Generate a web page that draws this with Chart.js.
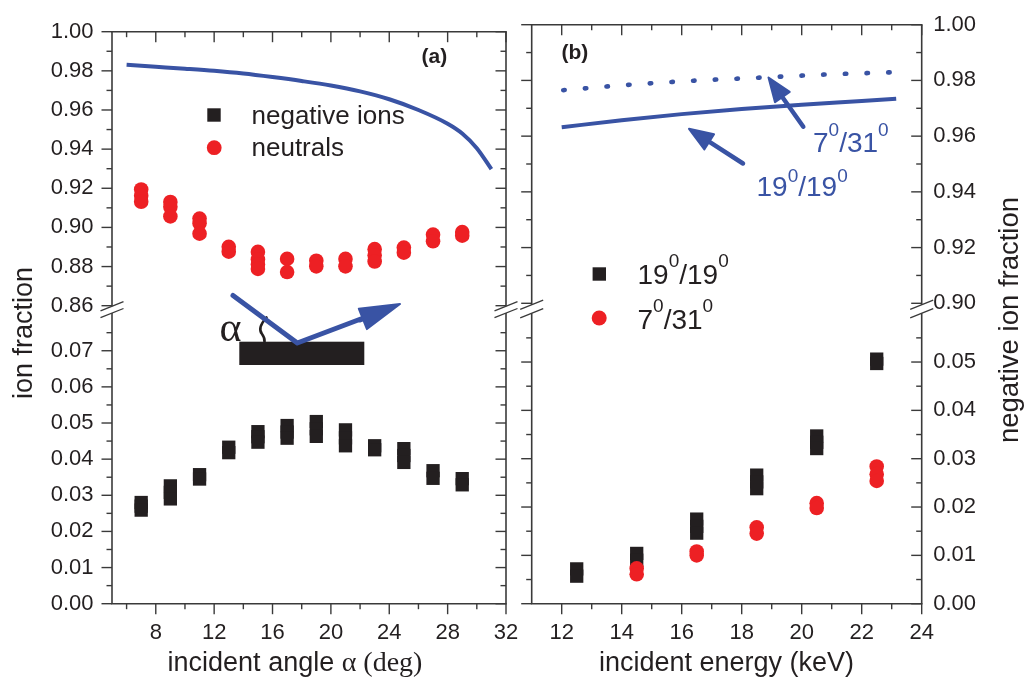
<!DOCTYPE html>
<html>
<head>
<meta charset="utf-8">
<script src="https://cdn.jsdelivr.net/npm/chart.js@4.4.1/dist/chart.umd.min.js"></script>
<style>
html,body{margin:0;padding:0;background:#fff;}
#wrap{position:relative;width:1027px;height:681px;background:#fff;overflow:hidden;}
#wrap canvas{position:absolute;left:0;top:0;}
</style>
</head>
<body>
<div id="wrap">
<canvas id="cTL" width="1027" height="681"></canvas>
<canvas id="cBL" width="1027" height="681"></canvas>
<canvas id="cTR" width="1027" height="681"></canvas>
<canvas id="cBR" width="1027" height="681"></canvas>
</div>
<script>
// ---------------- data ----------------
// panel (a): incident angle
const ANGLES = [7, 9, 11, 13, 15, 17, 19, 21, 23, 25, 27, 29];
const NEG_IONS_VS_ANGLE = [
  [0.0280, 0.0270, 0.0259], [0.0326, 0.0308, 0.0290], [0.0357, 0.0345], [0.0433, 0.0418],
  [0.0476, 0.0462, 0.0447], [0.0493, 0.0475, 0.0458], [0.0504, 0.0484, 0.0463], [0.0481, 0.0459, 0.0437],
  [0.0437, 0.0426], [0.0429, 0.0410, 0.0391], [0.0368, 0.0347], [0.0346, 0.0329]
];
const NEUTRALS_VS_ANGLE = [
  [0.9194, 0.9162, 0.9131], [0.9130, 0.9105, 0.9056], [0.9045, 0.9021, 0.8968], [0.8901, 0.8876],
  [0.8875, 0.8836, 0.8810, 0.8788], [0.8839, 0.8772], [0.8830, 0.8801], [0.8839, 0.8801],
  [0.8889, 0.8858, 0.8826], [0.8897, 0.8871], [0.8963, 0.8929], [0.8976, 0.8958]
];
const THEORY_ANGLE_X = [6, 8, 10, 12, 14, 16, 18, 20, 22, 24, 26, 28, 29, 30, 31];
const THEORY_ANGLE_Y = [0.9831, 0.9821, 0.9811, 0.9800, 0.9786, 0.9768, 0.9748, 0.9725, 0.9695, 0.9655, 0.9600, 0.9530, 0.9480, 0.9405, 0.9298];

// panel (b): incident energy
const ENERGIES = [12.5, 14.5, 16.5, 18.5, 20.5, 22.5];
const NEG_19_19 = [[0.0072, 0.0057], [0.0104, 0.0090], [0.0175, 0.0160, 0.0146], [0.0266, 0.0252, 0.0238], [0.0347, 0.0334, 0.0321], [0.0506, 0.0497]];
const NEG_7_31 = [[], [0.0073, 0.0061], [0.0108, 0.0100], [0.0158, 0.0145], [0.0208, 0.0198], [0.0284, 0.0268, 0.0254]];
const CURVE_19_19_X = [12, 14, 16, 18, 20, 22, 23.15];
const CURVE_19_19_Y = [0.9632, 0.9657, 0.9679, 0.9697, 0.9713, 0.9726, 0.9734];
const CURVE_7_31_X = [12.05, 14.2, 16.4, 18.6, 20.75, 22.95];
const CURVE_7_31_Y = [0.9765, 0.9784, 0.9799, 0.9810, 0.9821, 0.9829];

// axes
const ANGLE_RANGE = [5, 32];
const ANGLE_TICKS = [8, 12, 16, 20, 24, 28, 32];
const ANGLE_MINOR = [6, 10, 14, 18, 22, 26, 30];
const ENERGY_RANGE = [11, 24];
const ENERGY_TICKS = [12, 14, 16, 18, 20, 22, 24];
const ENERGY_MINOR = [13, 15, 17, 19, 21, 23];
const FRAC_UP_RANGE = [0.86, 1.00];
const FRAC_UP_TICKS = [0.86, 0.88, 0.90, 0.92, 0.94, 0.96, 0.98, 1.00];
const FRAC_UP_MINOR = [0.87, 0.89, 0.91, 0.93, 0.95, 0.97, 0.99];
const FRAC_LO_RANGE = [0, 0.08];
const FRAC_LO_TICKS = [0, 0.01, 0.02, 0.03, 0.04, 0.05, 0.06, 0.07];
const FRAC_LO_MINOR = [0.005, 0.015, 0.025, 0.035, 0.045, 0.055, 0.065, 0.075];
const NEG_UP_RANGE = [0.90, 1.00];
const NEG_UP_TICKS = [0.90, 0.92, 0.94, 0.96, 0.98, 1.00];
const NEG_UP_MINOR = [0.91, 0.93, 0.95, 0.97, 0.99];
const NEG_LO_RANGE = [0, 0.06];
const NEG_LO_TICKS = [0, 0.01, 0.02, 0.03, 0.04, 0.05];
const NEG_LO_MINOR = [0.005, 0.015, 0.025, 0.035, 0.045, 0.055];

// ---------------- style ----------------
const FONT = '"Liberation Sans", Arial, Helvetica, sans-serif';
const SERIF = '"Liberation Serif", "Times New Roman", serif';
const TEXT = '#231f20';
const AXIS = '#3a3a3a';
const BLUE = '#3953a4';
const RED = '#ed2024';
const BLACK = '#231f20';
const W = 1027, H = 681;
const G = { L1: 112, R1: 506, L2: 531.7, R2: 921.7, TOP: 15, BOT: 603.7,
            UP_B_L: 305.7, LO_T_L: 314.6, UP_B_R: 303.3, LO_T_R: 313.7 };
const YW = 80, XH = 60;

const pts = (xs, ys) => xs.flatMap((x, i) => ys[i].map(y => ({ x, y })));
const line = (xs, ys) => xs.map((x, i) => ({ x, y: ys[i] }));

function squares(data) {
  return { data, pointStyle: 'rect', pointRadius: 9.4, pointHoverRadius: 9.4,
           backgroundColor: BLACK, borderColor: BLACK, borderWidth: 0, showLine: false, clip: false };
}
function circles(data) {
  return { data, pointStyle: 'circle', pointRadius: 7.3, pointHoverRadius: 7.3,
           backgroundColor: RED, borderColor: RED, borderWidth: 0, showLine: false, clip: false };
}
function curve(data, dash) {
  return { data, showLine: true, pointRadius: 0, pointHoverRadius: 0, borderColor: BLUE,
           backgroundColor: BLUE, borderWidth: dash ? 4.6 : 4, borderDash: dash || [],
           borderCapStyle: dash ? 'round' : 'butt', cubicInterpolationMode: 'monotone', fill: false, clip: false };
}

// ---------------- helpers for drawing ----------------
function seg(ctx, x1, y1, x2, y2) { ctx.beginPath(); ctx.moveTo(x1, y1); ctx.lineTo(x2, y2); ctx.stroke(); }
function richText(ctx, x, y, parts, size, supSize, raise, color) {
  ctx.fillStyle = color; ctx.textAlign = 'left'; ctx.textBaseline = 'alphabetic';
  for (const [t, sup] of parts) {
    ctx.font = (sup ? supSize : size) + 'px ' + FONT;
    ctx.fillText(t, x, sup ? y - raise : y);
    x += ctx.measureText(t).width;
  }
}
function arrow(ctx, x1, y1, x2, y2, len, half, width, color) {
  const a = Math.atan2(y2 - y1, x2 - x1);
  const bx = x2 - len * Math.cos(a), by = y2 - len * Math.sin(a);
  ctx.strokeStyle = color; ctx.fillStyle = color; ctx.lineWidth = width; ctx.lineCap = 'round';
  seg(ctx, x1, y1, bx + 2 * Math.cos(a), by + 2 * Math.sin(a));
  ctx.beginPath();
  ctx.moveTo(x2, y2);
  ctx.lineTo(bx - half * Math.sin(a), by + half * Math.cos(a));
  ctx.lineTo(bx + half * Math.sin(a), by - half * Math.cos(a));
  ctx.closePath(); ctx.lineJoin = 'round'; ctx.lineWidth = 2; ctx.fill(); ctx.stroke();
}

// ---------------- annotations ----------------
function extraTL(chart, ctx) {
  // (a)
  ctx.fillStyle = TEXT; ctx.font = 'bold 21px ' + FONT; ctx.textAlign = 'left'; ctx.textBaseline = 'alphabetic';
  ctx.fillText('(a)', 421.5, 63);
  // legend
  ctx.fillStyle = BLACK; ctx.fillRect(207.3, 108.3, 13.4, 13.4);
  ctx.fillStyle = RED; ctx.beginPath(); ctx.arc(214.2, 147.7, 7.4, 0, Math.PI * 2); ctx.fill();
  ctx.fillStyle = TEXT; ctx.font = '26px ' + FONT;
  ctx.fillText('negative ions', 251.5, 123.5);
  ctx.fillText('neutrals', 251.5, 155.5);
}
function extraBL(chart, ctx) {
  // inset sketch: surface and scattered beam
  ctx.fillStyle = BLACK; ctx.fillRect(239.3, 341.7, 125, 23.3);
  ctx.strokeStyle = BLACK; ctx.lineWidth = 2.6; ctx.lineCap = 'round';
  ctx.beginPath(); ctx.moveTo(266.5, 317.5); ctx.quadraticCurveTo(257, 328, 262, 334); ctx.quadraticCurveTo(265, 338, 264.5, 342); ctx.stroke();
  ctx.fillStyle = TEXT; ctx.font = '42px ' + SERIF; ctx.textAlign = 'left'; ctx.textBaseline = 'alphabetic';
  ctx.fillText('\u03b1', 219.5, 341);
  ctx.strokeStyle = BLUE; ctx.lineWidth = 5; ctx.lineJoin = 'round'; ctx.lineCap = 'round';
  ctx.beginPath(); ctx.moveTo(233, 295.5); ctx.lineTo(297.3, 343); ctx.lineTo(370, 315.5); ctx.stroke();
  arrow(ctx, 360, 320, 400, 304, 40, 11, 5, BLUE);
}
function extraTR(chart, ctx) {
  ctx.fillStyle = TEXT; ctx.font = 'bold 21px ' + FONT; ctx.textAlign = 'left'; ctx.textBaseline = 'alphabetic';
  ctx.fillText('(b)', 561.5, 59);
  arrow(ctx, 803.3, 126.7, 768.5, 77.5, 24, 9, 4.5, BLUE);
  arrow(ctx, 743, 163.5, 689, 128.8, 24, 9, 4.5, BLUE);
  richText(ctx, 813, 151.5, [['7', false], ['0', true], ['/31', false], ['0', true]], 28, 19, 15.5, BLUE);
  richText(ctx, 756.5, 196, [['19', false], ['0', true], ['/19', false], ['0', true]], 28, 19, 14.5, BLUE);
  // legend
  ctx.fillStyle = BLACK; ctx.fillRect(592.6, 267.3, 13.4, 13.4);
  richText(ctx, 637.5, 283.5, [['19', false], ['0', true], ['/19', false], ['0', true]], 28, 19, 16.5, TEXT);
}
function extraBR(chart, ctx) {
  ctx.fillStyle = RED; ctx.beginPath(); ctx.arc(599.2, 318, 7.5, 0, Math.PI * 2); ctx.fill();
  richText(ctx, 637.5, 328.5, [['7', false], ['0', true], ['/31', false], ['0', true]], 28, 19, 16.5, TEXT);
}
function extraTitles(ctx) {
  ctx.fillStyle = TEXT; ctx.textBaseline = 'alphabetic';
  // y titles (rotated)
  ctx.save(); ctx.translate(31.5, 333); ctx.rotate(-Math.PI / 2);
  ctx.textAlign = 'center'; ctx.font = '27px ' + FONT; ctx.fillText('ion fraction', 0, 0); ctx.restore();
  ctx.save(); ctx.translate(1018, 320); ctx.rotate(-Math.PI / 2);
  ctx.textAlign = 'center'; ctx.font = '27.5px ' + FONT; ctx.fillText('negative ion fraction', 0, 0); ctx.restore();
  // x titles
  ctx.textAlign = 'left';
  ctx.font = '27px ' + FONT;
  const p1 = 'incident angle ';
  const w1 = ctx.measureText(p1).width;
  ctx.font = '28px ' + SERIF;
  const p2 = '\u03b1 (deg)';
  const w2 = ctx.measureText(p2).width;
  const x0 = 295 - (w1 + w2) / 2;
  ctx.font = '27px ' + FONT; ctx.fillText(p1, x0, 671);
  ctx.font = '28px ' + SERIF; ctx.fillText(p2, x0 + w1, 671);
  ctx.textAlign = 'center'; ctx.font = '27px ' + FONT;
  ctx.fillText('incident energy (keV)', 726.5, 671);
}

// per-chart frame configuration (kept outside Chart options)
const FRAME = {
  cTL: { edge: 'top', yMajor: FRAC_UP_TICKS, yMinor: FRAC_UP_MINOR, xMajor: ANGLE_TICKS, xMinor: ANGLE_MINOR, brk: 0.5, extra: extraTL },
  cBL: { edge: 'bottom', yMajor: FRAC_LO_TICKS, yMinor: FRAC_LO_MINOR, xMajor: ANGLE_TICKS, xMinor: ANGLE_MINOR, brk: 1.5, extra: (c, ctx) => { extraBL(c, ctx); extraTitles(ctx); } },
  cTR: { edge: 'top', yMajor: NEG_UP_TICKS, yMinor: NEG_UP_MINOR, xMajor: ENERGY_TICKS, xMinor: ENERGY_MINOR, brk: 1.5, extra: extraTR },
  cBR: { edge: 'bottom', yMajor: NEG_LO_TICKS, yMinor: NEG_LO_MINOR, xMajor: ENERGY_TICKS, xMinor: ENERGY_MINOR, brk: 0.5, extra: extraBR }
};

const framePlugin = {
  id: 'frame',
  afterDraw(chart) {
    const f = FRAME[chart.canvas.id];
    const ctx = chart.ctx;
    const { left, right, top, bottom } = chart.chartArea;
    const xs = chart.scales.x, ys = chart.scales.y;
    const MAJ = 10.5, MIN = 5.5;
    ctx.save();
    ctx.strokeStyle = AXIS; ctx.lineWidth = 1.6; ctx.lineCap = 'butt';
    const y0 = f.edge === 'top' ? top : top - f.brk;
    const y1 = f.edge === 'top' ? bottom + f.brk : bottom;
    seg(ctx, left, y0, left, y1);
    seg(ctx, right, y0, right, y1);
    if (f.edge === 'top') seg(ctx, left - 0.8, top, right + 0.8, top);
    else seg(ctx, left - 0.8, bottom, right + 0.8, bottom);
    ctx.lineWidth = 1.4;
    for (const v of f.yMajor) { const p = ys.getPixelForValue(v); seg(ctx, left - MAJ, p, left, p); seg(ctx, right - MAJ, p, right, p); }
    for (const v of f.yMinor) { const p = ys.getPixelForValue(v); seg(ctx, left - MIN, p, left, p); seg(ctx, right - MIN, p, right, p); }
    for (const v of f.xMajor) { const p = xs.getPixelForValue(v); if (f.edge === 'top') seg(ctx, p, top, p, top + MAJ); else seg(ctx, p, bottom, p, bottom + MAJ); }
    for (const v of f.xMinor) { const p = xs.getPixelForValue(v); if (f.edge === 'top') seg(ctx, p, top, p, top + MIN); else seg(ctx, p, bottom, p, bottom + MIN); }
    // axis break marks
    const by = f.edge === 'top' ? bottom + f.brk : top - f.brk;
    ctx.lineWidth = 1.3;
    for (const ax of [left, right]) seg(ctx, ax - 11.5, by + 4.6, ax + 11.5, by - 4.6);
    if (f.extra) f.extra(chart, ctx);
    ctx.restore();
  }
};

function makeChart(id, o) {
  const showX = o.edge === 'bottom';
  return new Chart(document.getElementById(id), {
    type: 'scatter',
    data: { datasets: o.datasets },
    options: {
      responsive: false, animation: false, devicePixelRatio: 1,
      events: [],
      layout: { autoPadding: false, padding: o.padding },
      plugins: { legend: { display: false }, tooltip: { enabled: false } },
      scales: {
        x: {
          type: 'linear', min: o.xRange[0], max: o.xRange[1], display: showX,
          afterBuildTicks: s => { s.ticks = o.xTicks.map(v => ({ value: v })); },
          afterFit: s => { if (showX) s.height = XH; },
          grid: { display: false, drawTicks: false }, border: { display: false },
          ticks: { autoSkip: false, maxRotation: 0, padding: 16.5, color: TEXT,
                   font: { family: FONT, size: 22 }, callback: v => String(v) }
        },
        y: {
          type: 'linear', position: o.yPos, min: o.yRange[0], max: o.yRange[1],
          afterBuildTicks: s => { s.ticks = o.yTicks.map(v => ({ value: v })); },
          afterFit: s => { s.width = YW; },
          grid: { display: false, drawTicks: false }, border: { display: false },
          ticks: { autoSkip: false, padding: o.yPos === 'left' ? 18.5 : 11.5, color: TEXT,
                   font: { family: FONT, size: 22 }, callback: v => Number(v).toFixed(2) }
        }
      }
    },
    plugins: [framePlugin]
  });
}

const padL1 = G.L1 - YW, padR1 = W - G.R1;
const padL2 = G.L2, padR2 = W - G.R2 - YW;
const padBotX = H - G.BOT - XH;

makeChart('cTL', {
  edge: 'top', xRange: ANGLE_RANGE, xTicks: ANGLE_TICKS, yRange: FRAC_UP_RANGE, yTicks: FRAC_UP_TICKS, yPos: 'left',
  padding: { left: padL1, right: padR1, top: G.TOP, bottom: H - G.UP_B_L },
  datasets: [ circles(pts(ANGLES, NEUTRALS_VS_ANGLE)), curve(line(THEORY_ANGLE_X, THEORY_ANGLE_Y)) ]
});
makeChart('cBL', {
  edge: 'bottom', xRange: ANGLE_RANGE, xTicks: ANGLE_TICKS, yRange: FRAC_LO_RANGE, yTicks: FRAC_LO_TICKS, yPos: 'left',
  padding: { left: padL1, right: padR1, top: G.LO_T_L, bottom: padBotX },
  datasets: [ squares(pts(ANGLES, NEG_IONS_VS_ANGLE)) ]
});
makeChart('cTR', {
  edge: 'top', xRange: ENERGY_RANGE, xTicks: ENERGY_TICKS, yRange: NEG_UP_RANGE, yTicks: NEG_UP_TICKS, yPos: 'right',
  padding: { left: padL2, right: padR2, top: G.TOP, bottom: H - G.UP_B_R },
  datasets: [ curve(line(CURVE_19_19_X, CURVE_19_19_Y)), curve(line(CURVE_7_31_X, CURVE_7_31_Y), [1.5, 20.2]) ]
});
makeChart('cBR', {
  edge: 'bottom', xRange: ENERGY_RANGE, xTicks: ENERGY_TICKS, yRange: NEG_LO_RANGE, yTicks: NEG_LO_TICKS, yPos: 'right',
  padding: { left: padL2, right: padR2, top: G.LO_T_R, bottom: padBotX },
  datasets: [ circles(pts(ENERGIES, NEG_7_31)), squares(pts(ENERGIES, NEG_19_19)) ]
});
</script>
</body>
</html>
